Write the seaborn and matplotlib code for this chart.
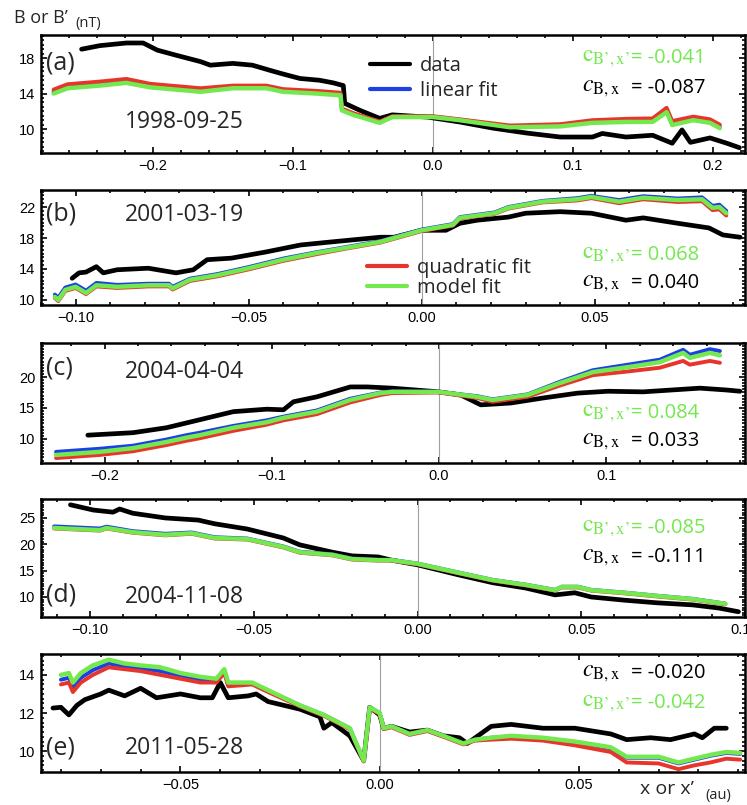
import numpy as np
import matplotlib
matplotlib.use('Agg')
import matplotlib.pyplot as plt
import seaborn as sns
from matplotlib.lines import Line2D
from matplotlib.ticker import MultipleLocator, FuncFormatter

# ---- panel (a) 1998-09-25 ----
a_x_data = [-0.251, -0.238, -0.219, -0.207, -0.197, -0.183, -0.166, -0.159, -0.143, -0.129, -0.116, -0.107,
            -0.095, -0.081, -0.071, -0.064, -0.063, -0.052, -0.038, -0.029, -0.004, 0.019, 0.043, 0.067,
            0.091, 0.114, 0.121, 0.138, 0.157, 0.171, 0.178, 0.184, 0.198, 0.21, 0.219]
a_data = [19.0, 19.4, 19.7, 19.7, 18.9, 18.3, 17.6, 17.2, 17.4, 17.2, 16.6, 16.2,
          15.7, 15.5, 15.2, 14.9, 12.9, 12.1, 11.2, 11.6, 11.35, 10.8, 10.1, 9.55,
          9.1, 9.1, 9.5, 9.1, 9.3, 8.4, 9.9, 8.5, 9.0, 8.4, 7.9]
a_x_fit = [-0.271, -0.261, -0.238, -0.219, -0.202, -0.166, -0.143, -0.119, -0.107, -0.083, -0.066, -0.065,
           -0.057, -0.038, -0.029, 0.0, 0.019, 0.055, 0.091, 0.114, 0.138, 0.157, 0.167, 0.171,
           0.186, 0.198, 0.205]
a_model = [14.0, 14.6, 14.9, 15.2, 14.7, 14.2, 14.6, 14.6, 14.2, 14.0, 13.8, 12.1,
           11.6, 10.7, 11.35, 11.35, 11.0, 10.2, 10.3, 10.7, 10.8, 10.8, 11.9, 10.45,
           11.0, 10.7, 10.1]
a_quad = [14.45, 15.05, 15.35, 15.65, 15.1, 14.6, 14.9, 14.9, 14.5, 14.3, 14.1, 12.3,
          11.8, 10.85, 11.45, 11.45, 11.1, 10.4, 10.55, 11.0, 11.15, 11.2, 12.4, 10.9,
          11.4, 11.1, 10.5]
a_lin = [14.2, 14.8, 15.1, 15.4, 14.9, 14.4, 14.7, 14.7, 14.3, 14.1, 13.9, 12.2,
         11.7, 10.8, 11.4, 11.4, 11.05, 10.3, 10.4, 10.8, 10.95, 10.95, 12.1, 10.6,
         11.2, 10.85, 10.3]

# ---- panel (b) 2001-03-19 ----
b_x_data = [-0.101, -0.099, -0.097, -0.094, -0.092, -0.088, -0.079, -0.071, -0.066, -0.062, -0.055, -0.045,
            -0.035, -0.026, -0.012, -0.008, 0.0, 0.007, 0.011, 0.016, 0.025, 0.030, 0.040, 0.049,
            0.059, 0.064, 0.074, 0.083, 0.087, 0.092]
b_data = [12.8, 13.5, 13.6, 14.3, 13.5, 13.9, 14.1, 13.5, 13.9, 15.2, 15.4, 16.2,
          17.1, 17.5, 18.1, 18.1, 19.0, 19.0, 19.9, 20.3, 20.7, 21.2, 21.4, 21.2,
          20.3, 20.6, 19.9, 19.3, 18.4, 18.1]
b_x_fit = [-0.106, -0.105, -0.103, -0.100, -0.097, -0.094, -0.088, -0.079, -0.073, -0.072, -0.067, -0.059,
           -0.050, -0.040, -0.030, -0.021, -0.012, -0.008, 0.0, 0.009, 0.011, 0.021, 0.025, 0.035,
           0.045, 0.049, 0.057, 0.064, 0.074, 0.081, 0.084, 0.086, 0.088]
b_model = [10.4, 10.0, 11.3, 11.7, 10.9, 11.9, 11.7, 11.9, 11.9, 11.5, 12.6, 13.2,
           14.1, 15.2, 16.1, 16.8, 17.5, 18.0, 19.0, 19.7, 20.6, 21.2, 21.9, 22.7,
           23.0, 23.3, 22.7, 23.2, 22.9, 23.0, 21.9, 22.0, 21.2]
b_quad = [10.25, 9.85, 11.15, 11.55, 10.75, 11.75, 11.55, 11.75, 11.75, 11.35, 12.45, 13.05,
          13.95, 15.05, 15.95, 16.7, 17.4, 17.9, 18.9, 19.6, 20.5, 21.1, 21.8, 22.6,
          22.85, 23.15, 22.5, 23.0, 22.65, 22.75, 21.6, 21.7, 20.9]
b_lin = [10.7, 10.3, 11.6, 12.0, 11.2, 12.2, 11.95, 12.1, 12.1, 11.7, 12.75, 13.35,
         14.25, 15.35, 16.2, 16.9, 17.6, 18.1, 19.1, 19.8, 20.7, 21.3, 22.0, 22.8,
         23.15, 23.45, 22.9, 23.4, 23.1, 23.25, 22.15, 22.3, 21.5]

# ---- panel (c) 2004-04-04 ----
c_x_data = [-0.210, -0.183, -0.163, -0.143, -0.123, -0.103, -0.093, -0.087, -0.073, -0.053, -0.043, -0.028,
            0.0, 0.013, 0.019, 0.025, 0.043, 0.062, 0.083, 0.101, 0.122, 0.156, 0.172, 0.180]
c_data = [10.6, 11.0, 11.8, 13.1, 14.4, 14.8, 14.7, 16.0, 16.8, 18.4, 18.4, 18.2,
          17.6, 17.1, 16.3, 15.5, 15.8, 16.6, 17.4, 17.7, 17.6, 18.2, 17.9, 17.7]
c_x_fit = [-0.229, -0.203, -0.183, -0.163, -0.151, -0.143, -0.123, -0.103, -0.093, -0.073, -0.053, -0.035,
           -0.028, 0.0, 0.023, 0.032, 0.053, 0.072, 0.092, 0.113, 0.132, 0.146, 0.150, 0.162, 0.168]
c_model = [7.4, 7.9, 8.5, 9.5, 10.2, 10.6, 11.8, 12.7, 13.4, 14.4, 16.3, 17.4,
           17.6, 17.6, 16.8, 16.3, 17.1, 19.0, 20.8, 21.6, 22.4, 23.9, 23.1, 23.9, 23.5]
c_quad = [6.9, 7.4, 8.0, 9.0, 9.7, 10.1, 11.3, 12.3, 13.0, 14.0, 15.9, 17.1,
          17.4, 17.5, 16.6, 16.0, 16.8, 18.6, 20.3, 20.9, 21.5, 22.6, 22.0, 22.6, 22.3]
c_lin = [7.9, 8.4, 8.9, 9.9, 10.6, 11.0, 12.1, 13.0, 13.6, 14.6, 16.5, 17.5,
         17.7, 17.6, 16.9, 16.4, 17.2, 19.2, 21.1, 22.0, 22.8, 24.4, 23.6, 24.5, 24.2]

# ---- panel (d) 2004-11-08 ----
d_x_data = [-0.106, -0.099, -0.093, -0.091, -0.087, -0.077, -0.067, -0.062, -0.052, -0.041, -0.036, -0.026,
            -0.020, -0.012, -0.008, 0.0, 0.0125, 0.023, 0.033, 0.042, 0.048, 0.053, 0.063, 0.073,
            0.084, 0.092, 0.098]
d_data = [27.5, 26.5, 26.1, 26.7, 25.9, 25.0, 24.6, 23.9, 22.9, 21.2, 19.9, 18.5,
          17.8, 17.6, 17.0, 16.1, 14.2, 12.7, 11.7, 10.4, 10.8, 10.0, 9.4, 8.9,
          8.5, 7.9, 7.2]
d_x_fit = [-0.111, -0.097, -0.095, -0.087, -0.077, -0.069, -0.062, -0.052, -0.041, -0.036, -0.026, -0.020,
           -0.012, -0.008, 0.0, 0.0125, 0.023, 0.033, 0.042, 0.044, 0.049, 0.053, 0.063, 0.073,
           0.084, 0.094]
d_model = [23.1, 22.7, 23.1, 22.3, 21.8, 22.1, 21.2, 21.0, 19.5, 18.5, 18.0, 17.2,
           17.0, 17.0, 16.3, 14.6, 13.2, 12.3, 11.3, 11.9, 11.9, 11.3, 10.8, 10.2,
           9.6, 8.7]
d_quad = [23.0, 22.6, 23.0, 22.2, 21.7, 22.0, 21.1, 20.9, 19.4, 18.4, 17.9, 17.1,
          16.9, 16.9, 16.2, 14.5, 13.1, 12.2, 11.2, 11.8, 11.8, 11.2, 10.7, 10.1,
          9.5, 8.6]
d_lin = [23.4, 23.0, 23.35, 22.5, 22.0, 22.25, 21.35, 21.1, 19.6, 18.6, 18.1, 17.3,
         17.05, 17.05, 16.35, 14.65, 13.25, 12.35, 11.35, 11.95, 11.95, 11.35, 10.85, 10.25,
         9.65, 8.75]

# ---- panel (e) 2011-05-28 ----
e_x_data = [-0.082, -0.080, -0.078, -0.076, -0.074, -0.070, -0.068, -0.064, -0.060, -0.056, -0.050, -0.045,
            -0.042, -0.040, -0.038, -0.033, -0.031, -0.028, -0.024, -0.020, -0.015, -0.014, -0.012, -0.0075,
            -0.004, -0.0025, 0.0, 0.001, 0.003, 0.0075, 0.012, 0.016, 0.020, 0.022, 0.024, 0.028,
            0.033, 0.041, 0.049, 0.058, 0.062, 0.068, 0.073, 0.079, 0.081, 0.084, 0.087]
e_data = [12.26, 12.3, 11.9, 12.4, 12.7, 13.0, 13.2, 12.9, 13.3, 12.8, 13.0, 12.8,
          12.8, 13.6, 12.8, 12.9, 13.0, 12.6, 12.4, 12.2, 11.8, 11.2, 11.5, 10.8,
          9.5, 12.3, 11.9, 11.2, 11.3, 11.0, 11.1, 10.8, 10.7, 10.4, 10.7, 11.3,
          11.4, 11.2, 11.2, 10.9, 10.6, 10.7, 10.6, 10.9, 10.7, 11.2, 11.2]
e_x_fit = [-0.080, -0.078, -0.077, -0.075, -0.072, -0.068, -0.064, -0.060, -0.055, -0.050, -0.045, -0.041,
           -0.039, -0.038, -0.032, -0.028, -0.020, -0.014, -0.0075, -0.004, -0.0025, 0.0, 0.001, 0.003,
           0.0075, 0.012, 0.016, 0.021, 0.024, 0.028, 0.033, 0.041, 0.049, 0.058, 0.062, 0.070,
           0.075, 0.079, 0.083, 0.087, 0.0905]
e_model = [14.0, 14.1, 13.6, 14.1, 14.5, 14.8, 14.6, 14.5, 14.4, 14.1, 13.9, 13.8,
           14.3, 13.6, 13.6, 13.2, 12.4, 11.9, 11.2, 9.5, 12.3, 12.0, 11.2, 11.3,
           10.9, 11.1, 10.8, 10.4, 10.6, 10.7, 10.8, 10.7, 10.5, 10.2, 9.7, 9.7,
           9.4, 9.6, 9.8, 9.95, 9.9]
e_quad = [13.5, 13.6, 13.1, 13.6, 14.0, 14.4, 14.3, 14.2, 14.0, 13.8, 13.6, 13.6,
          14.1, 13.4, 13.5, 13.1, 12.35, 11.85, 11.15, 9.45, 12.25, 11.95, 11.15, 11.25,
          10.85, 11.05, 10.75, 10.35, 10.55, 10.6, 10.65, 10.55, 10.3, 9.95, 9.4, 9.35,
          9.05, 9.25, 9.4, 9.6, 9.55]
e_lin = [13.75, 13.85, 13.35, 13.85, 14.25, 14.6, 14.45, 14.35, 14.2, 13.95, 13.75, 13.7,
         14.2, 13.5, 13.55, 13.15, 12.4, 11.9, 11.2, 9.5, 12.3, 12.0, 11.2, 11.3,
         10.9, 11.1, 10.8, 10.4, 10.6, 10.7, 10.75, 10.65, 10.45, 10.15, 9.65, 9.65,
         9.35, 9.55, 9.75, 9.9, 9.85]

panels = [
    dict(tag='(a)', date='1998-09-25', xd=a_x_data, d=a_data, xf=a_x_fit, m=a_model, q=a_quad, l=a_lin,
         xlim=(-0.28, 0.223), ylim=(7.3, 20.6), xmaj=0.1, xmin=0.02, dec=1, yticks=[10, 14, 18],
         cb='-0.087', cbp='-0.041', box=(35, 153), tagy=63, datey=122, cy=(58, 88)),
    dict(tag='(b)', date='2001-03-19', xd=b_x_data, d=b_data, xf=b_x_fit, m=b_model, q=b_quad, l=b_lin,
         xlim=(-0.110, 0.0934), ylim=(9.35, 24.2), xmaj=0.05, xmin=0.01, dec=2, yticks=[10, 14, 18, 22],
         cb='0.040', cbp='0.068', box=(190, 305), tagy=214, datey=215, cy=(255, 283)),
    dict(tag='(c)', date='2004-04-04', xd=c_x_data, d=c_data, xf=c_x_fit, m=c_model, q=c_quad, l=c_lin,
         xlim=(-0.238, 0.183), ylim=(6.1, 25.5), xmaj=0.1, xmin=0.02, dec=1, yticks=[10, 15, 20],
         cb='0.033', cbp='0.084', box=(343, 463), tagy=368, datey=372, cy=(413, 441)),
    dict(tag='(d)', date='2004-11-08', xd=d_x_data, d=d_data, xf=d_x_fit, m=d_model, q=d_quad, l=d_lin,
         xlim=(-0.115, 0.1), ylim=(6.2, 28.6), xmaj=0.05, xmin=0.01, dec=2, yticks=[10, 15, 20, 25],
         cb='-0.111', cbp='-0.085', box=(499, 617), tagy=595, datey=597, cy=(528, 557)),
    dict(tag='(e)', date='2011-05-28', xd=e_x_data, d=e_data, xf=e_x_fit, m=e_model, q=e_quad, l=e_lin,
         xlim=(-0.085, 0.0917), ylim=(8.9, 15.1), xmaj=0.05, xmin=0.01, dec=2, yticks=[10, 12, 14],
         cb='-0.020', cbp='-0.042', box=(654, 772), tagy=748, datey=748, cy=(703, 673)),
]

GREEN = '#74e84f'
RED = '#e8352b'
BLUE = '#1d3fe6'

sns.set_theme(style='ticks')
plt.rcParams['font.family'] = ['Liberation Sans', 'DejaVu Sans']
plt.rcParams['mathtext.fontset'] = 'stix'

W, H = 747, 805
fig = plt.figure(figsize=(W / 100, H / 100), dpi=100)


def fx(px):
    return px / W


def fy(py):
    return 1 - py / H


def tick_fmt(dec):
    # real minus sign on the tick labels, like the original
    return FuncFormatter(lambda v, pos: f'{v:.{dec}f}'.replace('-', '\u2212')
                         if abs(v) > 1e-9 else f'{0:.{dec}f}')


label_font = 'Open Sans'

for p in panels:
    top, bot = p['box']
    ax = fig.add_axes([fx(41), fy(bot), fx(745 - 41), (bot - top) / H])
    ax.axvline(0, color='#a0a0a0', lw=0.8, zorder=1)
    sns.lineplot(x=p['xd'], y=p['d'], ax=ax, color='black', lw=3.4, estimator=None, sort=False, zorder=2)
    sns.lineplot(x=p['xf'], y=p['l'], ax=ax, color=BLUE, lw=2.8, estimator=None, sort=False, zorder=3)
    sns.lineplot(x=p['xf'], y=p['q'], ax=ax, color=RED, lw=2.8, estimator=None, sort=False, zorder=4)
    sns.lineplot(x=p['xf'], y=p['m'], ax=ax, color=GREEN, lw=3.2, estimator=None, sort=False, zorder=5)
    ax.set_xlim(*p['xlim'])
    ax.set_ylim(*p['ylim'])
    ax.set_yticks(p['yticks'])
    ax.yaxis.set_minor_locator(MultipleLocator(0.5 if p['tag'] != '(e)' else 0.25))
    ax.xaxis.set_major_locator(MultipleLocator(p['xmaj']))
    ax.xaxis.set_minor_locator(MultipleLocator(p['xmin']))
    ax.xaxis.set_major_formatter(tick_fmt(p['dec']))
    ax.tick_params(which='both', direction='in', top=True, right=True, width=1.2, colors='black',
                   labelsize=10.5, pad=4)
    ax.tick_params(which='major', length=4)
    ax.tick_params(which='minor', length=2.5)
    for s in ax.spines.values():
        s.set_linewidth(1.8)
        s.set_color('black')
    ax.set_xlabel('')
    ax.set_ylabel('')

    fig.text(fx(46), fy(p['tagy']), p['tag'], fontsize=18, family=label_font, va='center', ha='left')
    fig.text(fx(125), fy(p['datey']), p['date'], fontsize=16.5, family=label_font, va='center', ha='left')

    gy, by = p['cy']
    fig.text(fx(582), fy(gy), r'$\mathrm{c}_{\mathrm{B’,x’}}$', color=GREEN, fontsize=17, va='center')
    fig.text(fx(631), fy(gy), '= ' + p['cbp'], color=GREEN, fontsize=14.5, family=label_font, va='center')
    fig.text(fx(582), fy(by), r'$c_{\mathrm{B,x}}$', color='black', fontsize=17, va='center')
    fig.text(fx(631), fy(by), '= ' + p['cb'], color='black', fontsize=14.5, family=label_font, va='center')

    if p['tag'] == '(a)':
        h = [Line2D([], [], color='black', lw=3), Line2D([], [], color=BLUE, lw=3)]
        ax.legend(h, ['data', 'linear fit'], loc='upper left', bbox_to_anchor=(fx(370), fy(56)),
                  bbox_transform=fig.transFigure, frameon=False, handlelength=2.0, handletextpad=0.5,
                  labelspacing=0.25, borderpad=0, borderaxespad=0, prop={'family': label_font, 'size': 14.5})
    if p['tag'] == '(b)':
        h = [Line2D([], [], color=RED, lw=3), Line2D([], [], color=GREEN, lw=3)]
        ax.legend(h, ['quadratic fit', 'model fit'], loc='upper left', bbox_to_anchor=(fx(367), fy(258)),
                  bbox_transform=fig.transFigure, frameon=False, handlelength=2.0, handletextpad=0.5,
                  labelspacing=0.0, borderpad=0, borderaxespad=0, prop={'family': label_font, 'size': 14.5})

fig.text(fx(14), fy(18), 'B or B’', fontsize=13, family=label_font, va='center', ha='left')
fig.text(fx(75), fy(24), '(nT)', fontsize=10.5, family=label_font, va='center', ha='left')
fig.text(fx(640), fy(789), 'x or x’', fontsize=14, family=label_font, va='center', ha='left')
fig.text(fx(705), fy(795), '(au)', fontsize=10.5, family=label_font, va='center', ha='left')

fig.savefig('out.png', dpi=100)
